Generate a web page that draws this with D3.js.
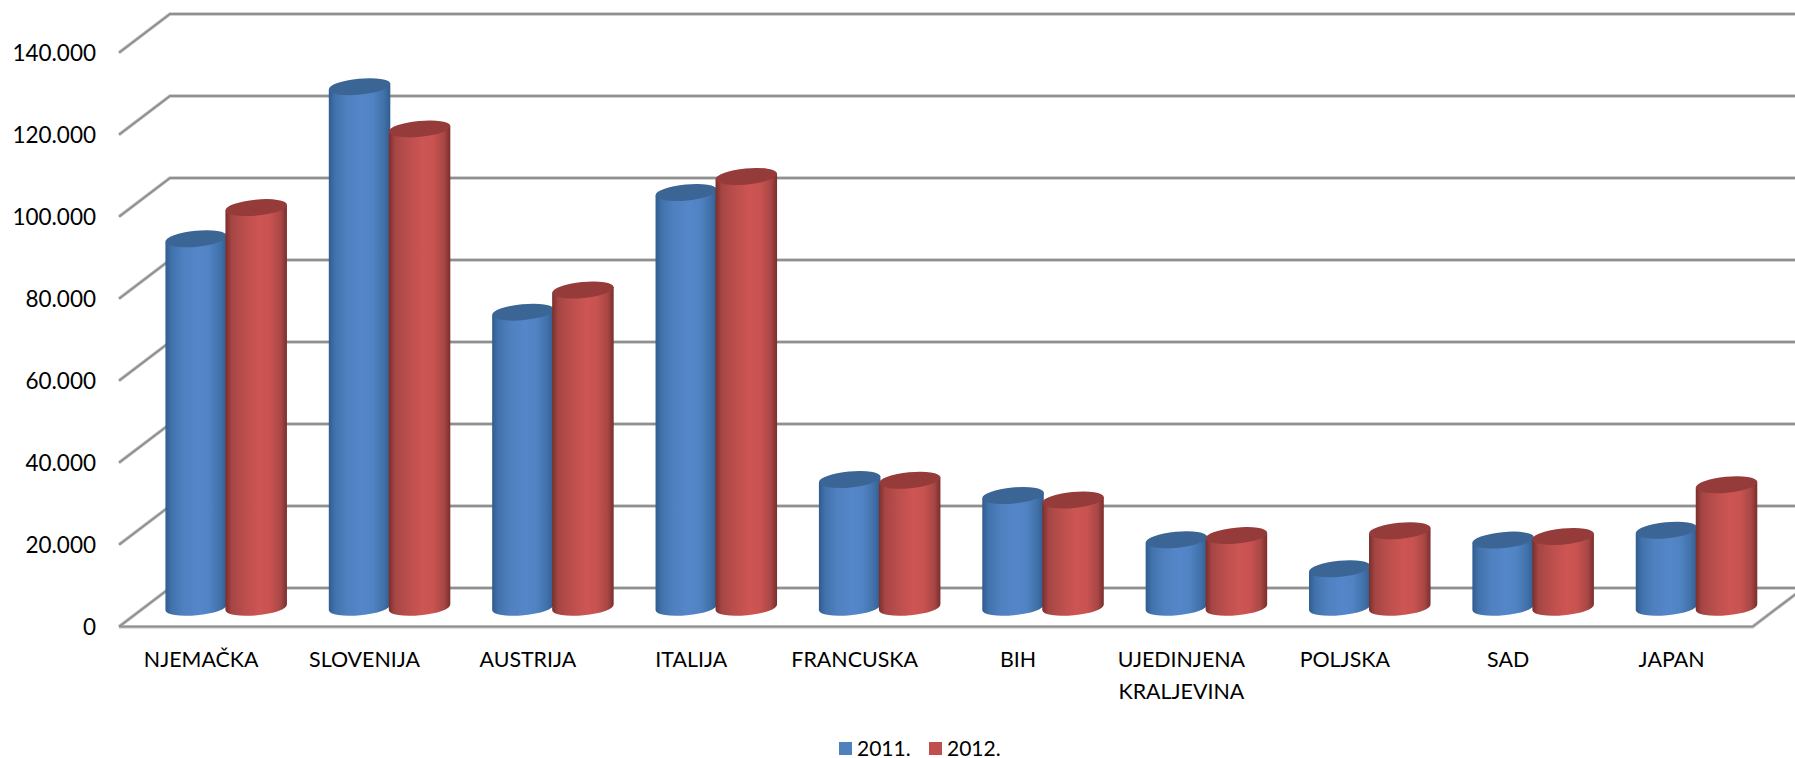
<!DOCTYPE html>
<html>
<head>
<meta charset="utf-8">
<script src="https://cdn.jsdelivr.net/npm/d3@7"></script>
<style>
  html, body { margin: 0; padding: 0; background: #fff; overflow: hidden; }
  text { font-family: Lato, sans-serif; fill: #000; }
</style>
</head>
<body>
<svg id="chart" width="1795" height="758"></svg>
<script>
var categories = ['NJEMAČKA', 'SLOVENIJA', 'AUSTRIJA', 'ITALIJA', 'FRANCUSKA', 'BIH',
  'UJEDINJENA KRALJEVINA', 'POLJSKA', 'SAD', 'JAPAN'];
var years = ['2011.', '2012.'];
var values2011 = [89900, 127000, 72000, 101200, 31200, 27300, 16500, 9400, 16400, 18800];
var values2012 = [97500, 116700, 77400, 105100, 31000, 26200, 17500, 18700, 17300, 29900];
var yTicks = [0, 20000, 40000, 60000, 80000, 100000, 120000, 140000];

var depthX = 51, depthY = 38.7;
var barGap = 60, rx = 30.9, ry = 8, tilt = 5.5;

var svg = d3.select('#chart');
var defs = svg.append('defs');

var x = d3.scaleBand().domain(categories).range([119, 1752.7]);
var y = d3.scaleLinear().domain([0, 140000]).range([626.7, 52.7]);
var fmt = d3.formatLocale({ decimal: ',', thousands: '.', grouping: [3], currency: ['', ''] }).format(',d');

var palette = [
  { id: 'blue', top: '#3b6594', stops: ['#305c8e', '#4272ab', '#4f81c0', '#5486ca', '#5083c3', '#4070a8', '#315d8f'] },
  { id: 'red', top: '#953b39', stops: ['#7a2e2c', '#a54644', '#ba4e4c', '#cd5553', '#c95351', '#a84745', '#7a2e2c'] }
];
var stopAt = [0, 0.1, 0.3, 0.55, 0.72, 0.9, 1];

palette.forEach(function (p) {
  var g = defs.append('linearGradient').attr('id', 'grad-' + p.id);
  g.selectAll('stop').data(p.stops).enter().append('stop')
    .attr('offset', function (d, i) { return stopAt[i]; })
    .attr('stop-color', function (d) { return d; });
});

function gridLine(d) {
  var x0 = x.range()[0];
  return 'M' + x0 + ',' + y(d) + 'L' + (x0 + depthX) + ',' + (y(d) - depthY) +
    'L' + (x.range()[1] + depthX) + ',' + (y(d) - depthY);
}
var floorLine = 'M' + x.range()[0] + ',' + y(0) + 'L' + x.range()[1] + ',' + y(0) +
  'L' + (x.range()[1] + depthX) + ',' + (y(0) - depthY);

// grey line with a lighter halo, goes past the right edge like the original
[{ c: '#c4c4c4', w: 3.4 }, { c: '#8f8f8f', w: 1.8 }].forEach(function (s) {
  var grid = svg.append('g').attr('fill', 'none').attr('stroke', s.c).attr('stroke-width', s.w);
  grid.selectAll('path').data(yTicks).enter().append('path').attr('d', gridLine);
  grid.append('path').attr('d', floorLine);
});

// y axis labels
var yAxis = svg.append('g')
  .attr('transform', 'translate(96,0)')
  .call(d3.axisLeft(y).tickValues(yTicks).tickSize(0).tickPadding(0).tickFormat(fmt));
yAxis.select('.domain').remove();
yAxis.selectAll('text').attr('font-size', 22.5).style('font-family', 'Lato, sans-serif').attr('dy', '0.34em');

// x axis labels
var xAxis = svg.append('g')
  .attr('transform', 'translate(0.5,' + y(0) + ')')
  .call(d3.axisBottom(x).tickSize(0).tickPadding(0));
xAxis.select('.domain').remove();
xAxis.selectAll('text')
  .attr('font-size', 21.4)
  .style('font-family', 'Lato, sans-serif')
  .attr('y', 40)
  .attr('dy', 0)
  .each(function (d) {
    var el = d3.select(this);
    var words = d.split(' ');
    el.text(null);
    words.forEach(function (w, i) {
      el.append('tspan').attr('x', 0).attr('dy', i ? 32.5 : 0).text(w);
    });
  });

function cylinder(cx, topY, baseY) {
  var a = tilt * Math.PI / 180;
  var dx = rx * Math.cos(a), dy = rx * Math.sin(a);
  return 'M' + (cx - dx) + ',' + (topY + dy) +
    'L' + (cx + dx) + ',' + (topY - dy) +
    'L' + (cx + dx) + ',' + (baseY - dy) +
    'A' + rx + ',' + ry + ' ' + (-tilt) + ' 0 1 ' + (cx - dx) + ',' + (baseY + dy) + 'Z';
}

var bars = svg.append('g');
categories.forEach(function (c, i) {
  [values2011[i], values2012[i]].forEach(function (v, s) {
    var cx = x(c) + x.bandwidth() / 2 + depthX / 2 + (s ? barGap / 2 : -barGap / 2);
    var topY = y(v) - depthY / 2;
    var baseY = y(0) - depthY / 2;
    bars.append('path')
      .attr('d', cylinder(cx, topY, baseY))
      .attr('fill', 'url(#grad-' + palette[s].id + ')');
    bars.append('ellipse')
      .attr('rx', rx).attr('ry', ry)
      .attr('transform', 'translate(' + cx + ',' + topY + ') rotate(' + (-tilt) + ')')
      .attr('fill', palette[s].top);
  });
});

// legend
var legendX = d3.scaleOrdinal().domain(years).range([839, 929]);
var legend = svg.append('g').selectAll('g').data(years).enter().append('g')
  .attr('transform', function (d) { return 'translate(' + legendX(d) + ',742)'; });
legend.append('rect').attr('width', 13).attr('height', 13)
  .attr('fill', function (d, i) { return i ? '#c0504d' : '#4f81bd'; });
legend.append('text').attr('x', 18).attr('y', 13.5).attr('font-size', 21)
  .text(function (d) { return d; });
</script>
</body>
</html>
